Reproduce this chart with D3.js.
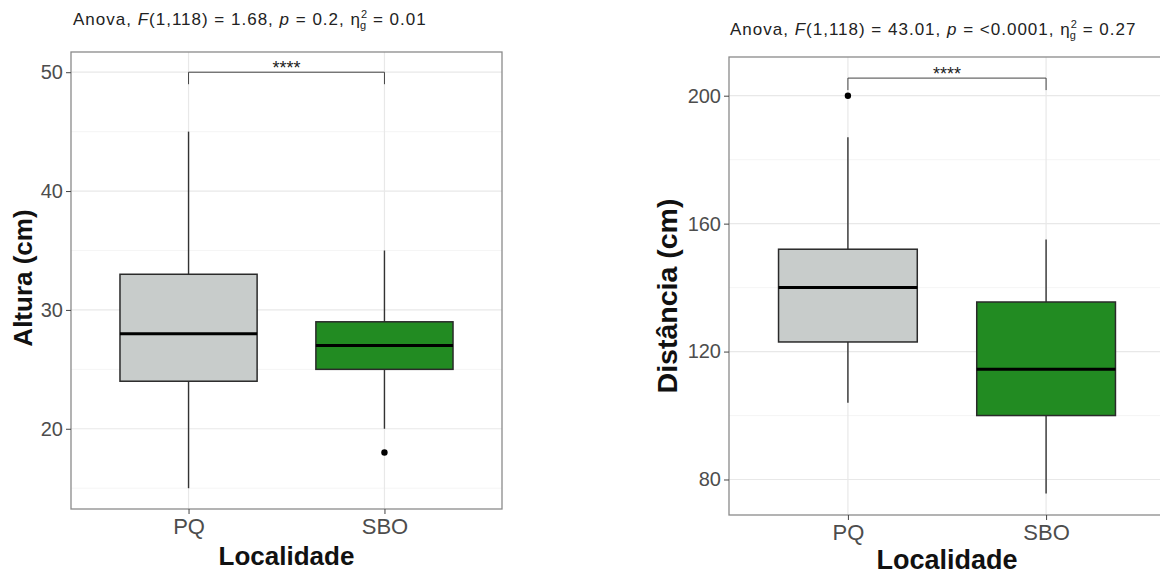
<!DOCTYPE html>
<html>
<head>
<meta charset="utf-8">
<script src="https://cdn.jsdelivr.net/npm/d3@7"></script>
<style>
  body { margin: 0; background: #fff; }
  svg { display: block; font-family: Arial, "Liberation Sans", Helvetica, sans-serif; }
</style>
</head>
<body>
<svg id="chart" width="1160" height="575"></svg>
<script>
// categorias
const categories = ["PQ", "SBO"];
const fills = ["#c8cccb", "#228b22"];

// Altura (cm) - estatísticas do boxplot
const alturaLower = [15, 20];
const alturaQ1 = [24, 25];
const alturaMedian = [28, 27];
const alturaQ3 = [33, 29];
const alturaUpper = [45, 35];
const alturaOutliers = [[], [18]];
const alturaTicks = [20, 30, 40, 50];
const alturaMinor = [15, 25, 35, 45];

// Distância (cm)
const distLower = [104, 75.6];
const distQ1 = [123, 100];
const distMedian = [140, 114.5];
const distQ3 = [152, 135.5];
const distUpper = [187, 155];
const distOutliers = [[200], []];
const distTicks = [80, 120, 160, 200];
const distMinor = [100, 140, 180];

const svg = d3.select("#chart");

function boxplot(cfg) {
  const g = svg.append("g");
  const x = d3.scalePoint().domain(categories).range([cfg.left, cfg.right]).padding(0.6);
  const y = d3.scaleLinear().domain(cfg.domain).range([cfg.bottom, cfg.top]);
  const step = x.step();
  const bw = step * 0.7;

  // grid
  g.selectAll(".minor").data(cfg.minor).enter().append("line")
    .attr("x1", cfg.left).attr("x2", cfg.right)
    .attr("y1", d => y(d)).attr("y2", d => y(d))
    .attr("stroke", "#f2f2f2").attr("stroke-width", 0.8);
  g.selectAll(".major").data(cfg.ticks).enter().append("line")
    .attr("x1", cfg.left).attr("x2", cfg.right)
    .attr("y1", d => y(d)).attr("y2", d => y(d))
    .attr("stroke", "#e8e8e8").attr("stroke-width", 1.2);
  g.selectAll(".vgrid").data(categories).enter().append("line")
    .attr("x1", d => x(d)).attr("x2", d => x(d))
    .attr("y1", cfg.top).attr("y2", cfg.bottom)
    .attr("stroke", "#e8e8e8").attr("stroke-width", 1.2);

  // whiskers + caixas
  categories.forEach((c, i) => {
    g.append("line").attr("x1", x(c)).attr("x2", x(c))
      .attr("y1", y(cfg.upper[i])).attr("y2", y(cfg.q3[i]))
      .attr("stroke", "#333").attr("stroke-width", 1.4);
    g.append("line").attr("x1", x(c)).attr("x2", x(c))
      .attr("y1", y(cfg.q1[i])).attr("y2", y(cfg.lower[i]))
      .attr("stroke", "#333").attr("stroke-width", 1.4);
    g.append("rect")
      .attr("x", x(c) - bw / 2).attr("width", bw)
      .attr("y", y(cfg.q3[i])).attr("height", y(cfg.q1[i]) - y(cfg.q3[i]))
      .attr("fill", fills[i]).attr("stroke", "#2a2a2a").attr("stroke-width", 1.5);
    g.append("line").attr("x1", x(c) - bw / 2).attr("x2", x(c) + bw / 2)
      .attr("y1", y(cfg.median[i])).attr("y2", y(cfg.median[i]))
      .attr("stroke", "#000").attr("stroke-width", 3);
    g.selectAll(null).data(cfg.outliers[i]).enter().append("circle")
      .attr("cx", x(c)).attr("cy", d => y(d)).attr("r", 3.2).attr("fill", "#000");
  });

  // bracket
  const by = y(cfg.bracket);
  g.append("path")
    .attr("d", `M${x(categories[0])},${by + 12}V${by}H${x(categories[1])}V${by + 12}`)
    .attr("fill", "none").attr("stroke", "#444").attr("stroke-width", 1);
  g.append("text").attr("x", (x(categories[0]) + x(categories[1])) / 2).attr("y", by + 2)
    .attr("text-anchor", "middle").attr("font-size", 18).attr("fill", "#222").text("****");

  // border
  g.append("rect").attr("x", cfg.left).attr("y", cfg.top)
    .attr("width", cfg.right - cfg.left).attr("height", cfg.bottom - cfg.top)
    .attr("fill", "none").attr("stroke", "#8a8a8a").attr("stroke-width", 1.3);

  // axes
  const ya = g.append("g").attr("transform", `translate(${cfg.left},0)`)
    .call(d3.axisLeft(y).tickValues(cfg.ticks).tickSize(5).tickPadding(3));
  ya.select(".domain").remove();
  ya.selectAll("line").attr("stroke", "#444");
  ya.selectAll("text").attr("font-size", 20).attr("fill", "#4d4d4d").attr("font-family", null);

  const xa = g.append("g").attr("transform", `translate(0,${cfg.bottom})`)
    .call(d3.axisBottom(x).tickSize(5).tickPadding(4));
  xa.select(".domain").remove();
  xa.selectAll("line").attr("stroke", "#444");
  xa.selectAll("text").attr("font-size", 22).attr("fill", "#4d4d4d").attr("font-family", null);

  // titles
  g.append("text").attr("x", (cfg.left + cfg.right) / 2).attr("y", cfg.xTitleY)
    .attr("text-anchor", "middle").attr("font-size", cfg.titleSize).attr("font-weight", "bold")
    .attr("fill", "#111").text("Localidade");
  g.append("text")
    .attr("transform", `translate(${cfg.yTitleX},${cfg.yTitleCY}) rotate(-90)`)
    .attr("text-anchor", "middle").attr("font-size", cfg.yTitleSize).attr("font-weight", "bold")
    .attr("fill", "#111").text(cfg.yLabel);

  // anova subtitle
  const t = g.append("text").attr("x", cfg.subX).attr("y", cfg.subY)
    .attr("font-size", 17).attr("letter-spacing", 1).attr("fill", "#222");
  t.append("tspan").text("Anova, ");
  t.append("tspan").attr("font-style", "italic").text("F");
  t.append("tspan").text(`(1,118) = ${cfg.fval}, `);
  t.append("tspan").attr("font-style", "italic").text("p");
  t.append("tspan").text(` = ${cfg.pval}, η`);
  t.append("tspan").attr("font-size", 11).attr("dy", -7).text("2");
  t.append("tspan").attr("font-size", 11).attr("dx", -8).attr("dy", 11).text("g");
  t.append("tspan").attr("dy", -4).text(` = ${cfg.eta}`);
}

boxplot({
  left: 71, right: 502, top: 52, bottom: 509,
  domain: [13.25, 51.7], ticks: alturaTicks, minor: alturaMinor,
  lower: alturaLower, q1: alturaQ1, median: alturaMedian, q3: alturaQ3,
  upper: alturaUpper, outliers: alturaOutliers, bracket: 50,
  yLabel: "Altura (cm)", yTitleX: 32, yTitleCY: 278, xTitleY: 565, titleSize: 26, yTitleSize: 26,
  subX: 73, subY: 25, fval: "1.68", pval: "0.2", eta: "0.01"
});

boxplot({
  left: 729, right: 1165, top: 57, bottom: 515,
  domain: [68.9, 212.1], ticks: distTicks, minor: distMinor,
  lower: distLower, q1: distQ1, median: distMedian, q3: distQ3,
  upper: distUpper, outliers: distOutliers, bracket: 205.5,
  yLabel: "Distância (cm)", yTitleX: 677, yTitleCY: 296, xTitleY: 569, titleSize: 27, yTitleSize: 28.5,
  subX: 730, subY: 35, fval: "43.01", pval: "<0.0001", eta: "0.27"
});
</script>
</body>
</html>
